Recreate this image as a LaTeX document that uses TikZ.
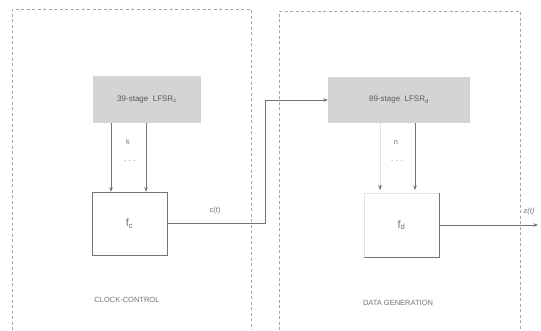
\documentclass[tikz,border=0pt]{standalone}
\usepackage{fontspec}
\setmainfont{Liberation Sans}
\usetikzlibrary{arrows.meta,calc,positioning}

\definecolor{inkgray}{gray}{0.45}
\definecolor{fillgray}{gray}{0.83}
\tikzset{
  region/.style={draw=black!35,dash pattern=on 3pt off 2.5pt,line width=0.5pt},
  lfsr/.style={fill=fillgray,draw=none,text=black!65,font=\fontsize{8}{9}\selectfont,inner sep=0pt},
  fbox/.style={draw=inkgray,line width=0.5pt,text=inkgray,font=\fontsize{11}{12}\selectfont,inner sep=0pt},
  wire/.style={draw=inkgray,line width=0.5pt},
  arr/.style={wire,-{Stealth[length=4.5pt,width=3.5pt]}},
  lbl/.style={text=inkgray,font=\fontsize{7.5}{9}\selectfont,inner sep=1pt}
}

\begin{document}
\begin{tikzpicture}[x=1pt,y=-1pt]
  \useasboundingbox (0,0) rectangle (541,330);

  % the two regions, open at the bottom
  \draw[region] (12,330) -- (12,9) -- (251,9) -- (251,330);
  \draw[region] (279,330) -- (279,11) -- (520,11) -- (520,330);

  \node[lfsr,minimum width=108pt,minimum height=47pt] (lfsrc) at (147,99.5) {39-stage\ \ LFSR\textsubscript{c}};
  \node[lfsr,minimum width=142pt,minimum height=46pt] (lfsrd) at (399,100) {89-stage\ \ LFSR\textsubscript{d}};

  \node[fbox,minimum width=75pt,minimum height=63pt] (fc) at (129.5,223.5) {f\textsubscript{c}};
  \node[fbox,draw=black!10,minimum width=75pt,minimum height=64pt] (fd) at (401.5,225) {f\textsubscript{d}};
  \draw[wire] (fd.north east) -- (fd.south east) -- (fd.south west);

  % taps into f_c
  \coordinate (kA) at (111,150);
  \coordinate (kB) at (146,150);
  \draw[arr] (lfsrc.south -| kA) -- (fc.north -| kA);
  \draw[arr] (lfsrc.south -| kB) -- (fc.north -| kB);
  \node[lbl] (k) at (128,142) {k};
  \node[lbl] (kdots) at (130,161) {. . .};

  % taps into f_d
  \coordinate (nA) at (380,150);
  \coordinate (nB) at (415,150);
  \coordinate (nTip) at (380,190);
  \draw[wire,draw=black!10] (lfsrd.south -| nA) -- (nTip);
  \draw[arr] ([yshift=5pt]nTip) -- (nTip);
  \draw[arr] (lfsrd.south -| nB) -- (nTip -| nB);
  \node[lbl] (n) at (396,142) {n};
  \node[lbl] (ndots) at (397,161) {. . .};

  % clock control output
  \coordinate (turn) at (265,0);
  \draw[arr] (fc.east) -- (fc.east -| turn) -- (lfsrd.west -| turn) -- (lfsrd.west);
  \node[lbl] (ct) at (215,211) {c(t)};

  % keystream output
  \coordinate (zend) at (538,225);
  \draw[arr] (fd.east) -- (zend);
  \node[lbl] (zt) at (529,212) {\itshape z(t)};

  \node[lbl] (cc) at (127,300) {CLOCK-CONTROL};
  \node[lbl] (dg) at (398,303) {DATA GENERATION};
\end{tikzpicture}
\end{document}
